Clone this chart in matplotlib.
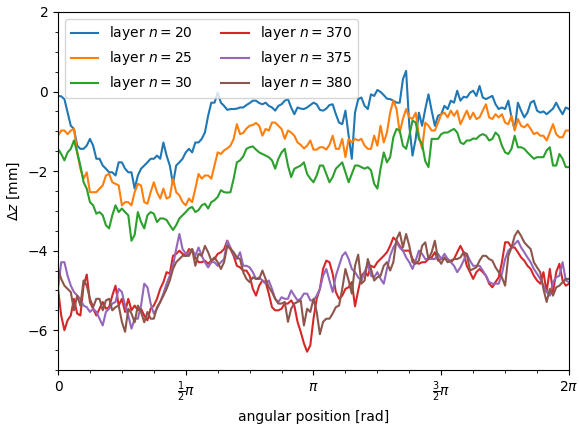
import numpy as np
import matplotlib
matplotlib.use('Agg')
import matplotlib.pyplot as plt
from matplotlib.ticker import MultipleLocator

# angular grid (rad)
n_points = 161
angle = np.linspace(0, 2 * np.pi, n_points)

layers = [20, 25, 30, 370, 375, 380]

dz_20 = [-0.11, -0.12, -0.19, -0.53, -0.86, -0.94, -1.36, -1.44, -1.44, -1.36,
         -1.19, -1.36, -1.69, -1.69, -1.86, -1.94, -2.03, -2.03, -2.11, -1.78,
         -1.78, -1.94, -2.03, -2.03, -2.44, -2.11, -1.94, -1.86, -1.78, -1.69,
         -1.69, -1.61, -1.69, -1.28, -1.61, -1.86, -2.32, -1.86, -1.78, -1.69,
         -1.53, -1.44, -1.53, -1.28, -1.28, -1.19, -1.03, -0.61, -0.28, -0.28,
         -0.03, -0.28, -0.36,
         -0.46, -0.44, -0.44, -0.43, -0.40, -0.40, -0.34, -0.29, -0.23, -0.23,
         -0.29, -0.32, -0.28, -0.36, -0.40, -0.48, -0.36, -0.32, -0.23, -0.19,
         -0.40, -0.57, -0.40, -0.43, -0.44, -0.40, -0.34, -0.28, -0.32, -0.46,
         -0.48, -0.43, -0.34, -0.32, -0.57, -0.78, -0.82, -0.48, -1.11, -1.69,
         -0.53, -0.19, -0.15, -0.36, -0.44, -0.07, -0.11, 0.04, -0.01, -0.09,
         -0.18, -0.19, -0.23,
         -0.28, -0.28, 0.31, 0.52, -0.86, -1.61, -1.19, -0.53, -0.86, -0.44,
         -0.07, -0.48, -0.86, -0.61, -0.57, -0.36, -0.44, -0.23, -0.28, 0.02,
         -0.23, -0.13, -0.15, -0.03, 0.02, -0.11, 0.14, -0.15, -0.19, -0.15,
         -0.11, -0.32, -0.44, -0.40, -0.44, -0.23, -0.65, -0.95, -0.28, -0.48,
         -0.65, -0.53, -0.28, -0.23, -0.48, -0.53, -0.50, -0.57, -0.50, -0.43,
         -0.28, -0.44, -0.57, -0.40, -0.44]

dz_25 = [-1.11, -0.98, -0.98, -1.07, -0.98, -0.94, -1.53, -1.94, -2.19, -2.03,
         -2.53, -2.53, -2.53, -2.44, -2.36, -2.11, -2.07, -2.28, -2.32, -2.36,
         -2.86, -2.78, -2.78, -2.86, -2.53, -2.32, -2.36, -2.78, -2.82, -2.53,
         -2.28, -2.53, -2.69, -2.44, -2.69, -2.65, -2.19, -2.53, -2.61, -2.78,
         -2.86, -2.69, -2.78, -2.44, -2.07, -2.19, -2.11, -2.11, -2.19, -1.86,
         -1.53, -1.57, -1.48,
         -1.43, -1.36, -1.19, -0.82, -1.07, -1.04, -0.93, -0.86, -0.84, -0.79,
         -0.86, -1.11, -0.94, -0.98, -0.78, -0.78, -0.86, -0.94, -1.19, -0.98,
         -1.03, -1.11, -1.28, -1.34, -1.43, -1.36, -1.23, -1.46, -1.46, -1.40,
         -1.40, -1.46, -1.34, -1.11, -1.44, -1.44, -1.19, -1.65, -1.19, -1.28,
         -1.19, -1.23, -1.19, -1.36, -1.44, -1.44, -1.11, -1.36, -0.86, -1.28,
         -1.03, -0.53, -0.23,
         -0.44, -1.03, -0.69, -0.44, -0.65, -0.69, -0.53, -1.11, -1.44, -0.78,
         -0.86, -0.98, -0.98, -0.78, -0.57, -0.53, -0.65, -0.48, -0.61, -0.48,
         -0.82, -0.65, -0.48, -0.69, -0.53, -0.69, -0.65, -0.48, -0.32, -0.65,
         -0.69, -0.57, -0.65, -0.57, -0.78, -0.82, -0.61, -0.98, -0.69, -0.86,
         -0.90, -0.82, -0.94, -1.07, -1.03, -1.11, -1.11, -1.23, -1.03, -0.82,
         -1.07, -1.15, -1.15, -0.98, -0.98]

dz_30 = [-1.44, -1.57, -1.73, -1.53, -1.44, -1.23, -1.53, -1.86, -2.28, -2.44,
         -2.78, -2.86, -3.07, -3.03, -3.11, -3.36, -3.44, -3.11, -2.86, -3.03,
         -2.94, -3.03, -3.11, -3.75, -3.60, -3.03, -3.28, -3.44, -3.11, -3.03,
         -3.07, -3.28, -3.19, -3.19, -3.23, -3.36, -3.48, -3.36, -3.19, -3.11,
         -3.03, -2.94, -2.90, -3.03, -2.98, -2.86, -2.82, -2.94, -2.78, -2.73,
         -2.65, -2.48, -2.53,
         -2.54, -2.53, -2.19, -1.78, -1.73, -1.63, -1.44, -1.40, -1.38, -1.46,
         -1.53, -1.57, -1.61, -1.65, -1.73, -1.94, -1.69, -1.53, -1.44, -1.86,
         -2.15, -1.94, -1.90, -1.86, -1.78, -2.07, -2.19, -2.28, -2.11, -1.86,
         -1.86, -2.07, -2.28, -2.15, -1.94, -1.86, -1.78, -2.03, -2.28, -2.07,
         -1.86, -1.86, -1.90, -1.94, -1.90, -1.98, -2.32, -2.44, -1.94, -1.53,
         -1.78, -1.65, -1.15,
         -0.94, -0.98, -1.36, -1.44, -1.11, -0.73, -0.78, -1.19, -1.32, -1.75,
         -1.90, -1.19, -1.19, -1.19, -1.07, -1.03, -1.03, -0.98, -0.94, -1.03,
         -1.28, -1.32, -1.23, -1.23, -1.18, -1.19, -1.11, -1.07, -1.11, -1.23,
         -1.19, -1.03, -1.11, -1.36, -1.53, -1.57, -1.44, -1.11, -1.40, -1.40,
         -1.44, -1.53, -1.61, -1.69, -1.65, -1.65, -1.65, -1.48, -1.40, -1.86,
         -1.86, -1.57, -1.69, -1.90, -1.90]

dz_370 = [-4.96, -5.63, -6.00, -5.75, -5.63, -5.21, -5.58, -5.63, -4.88, -4.60,
          -5.29, -5.46, -5.63, -5.46, -5.29, -5.46, -5.42, -5.13, -4.88, -5.38,
          -5.21, -5.54, -5.21, -5.50, -5.38, -5.50, -5.46, -5.63, -5.75, -5.46,
          -5.38, -5.21, -4.96, -4.79, -4.54, -4.58, -4.13, -4.08, -4.00, -4.08,
          -4.13, -3.96, -4.00, -4.17, -4.29, -4.29, -4.25, -4.33, -4.25, -4.21,
          -4.08, -4.04, -3.96,
          -3.75, -3.96, -4.13, -4.38, -4.42, -4.50, -4.50, -4.63, -4.96, -5.13,
          -4.88, -4.75, -4.79, -5.08, -5.42, -5.50, -5.50, -5.46, -5.33, -5.33,
          -5.25, -5.38, -5.79, -6.04, -6.33, -6.54, -6.38, -5.71, -5.21, -4.96,
          -4.46, -4.25, -4.29, -4.58, -5.04, -5.21, -5.13, -4.96, -4.92, -4.79,
          -5.40, -5.00, -4.63, -4.54, -4.63, -4.38, -4.42, -4.29, -4.21, -4.13,
          -4.04, -3.88, -3.67,
          -3.75, -3.88, -4.00, -4.00, -4.00, -4.21, -4.29, -4.33, -4.29, -4.29,
          -4.21, -4.17, -4.04, -4.25, -4.21, -4.21, -4.21, -4.29, -4.21, -4.04,
          -3.88, -4.04, -4.38, -4.54, -4.71, -4.54, -4.46, -4.54, -4.63, -4.83,
          -4.92, -4.79, -4.67, -4.29, -3.79, -3.79, -3.92, -3.92, -4.04, -4.17,
          -4.25, -4.38, -4.46, -4.63, -4.75, -4.83, -4.54, -5.04, -4.46, -5.04,
          -4.54, -4.33, -4.75, -4.88, -4.83]

dz_375 = [-4.96, -4.29, -4.29, -4.63, -4.88, -5.04, -5.13, -5.21, -5.38, -5.42,
          -5.54, -5.46, -5.54, -5.71, -5.88, -5.54, -5.46, -5.33, -5.29, -4.96,
          -5.04, -5.38, -5.63, -5.96, -5.71, -5.71, -5.38, -4.83, -4.92, -5.33,
          -5.58, -5.46, -5.29, -5.08, -4.83, -4.63, -4.38, -3.96, -3.58, -3.96,
          -4.08, -4.08, -3.96, -4.13, -3.92, -4.13, -4.29, -4.42, -4.29, -4.29,
          -4.38, -4.29, -4.21,
          -3.75, -3.92, -4.08, -4.21, -4.04, -4.38, -4.38, -4.42, -4.54, -4.71,
          -4.67, -4.75, -4.83, -4.75, -4.96, -5.21, -5.29, -5.17, -5.21, -5.21,
          -5.00, -5.13, -5.25, -5.21, -5.08, -5.08, -5.25, -5.25, -5.13, -4.96,
          -4.63, -4.46, -4.75, -5.04, -4.63, -4.38, -4.13, -4.04, -4.21, -4.46,
          -4.54, -4.67, -4.75, -4.54, -4.33, -4.63, -4.67, -4.54, -4.71, -4.83,
          -4.46, -4.13, -3.92,
          -3.79, -3.92, -4.00, -4.17, -4.29, -4.46, -4.25, -4.00, -4.08, -4.21,
          -4.21, -4.21, -4.21, -4.08, -4.21, -4.08, -4.21, -4.29, -4.38, -4.54,
          -4.42, -4.25, -4.08, -4.25, -4.38, -4.38, -4.38, -4.50, -4.63, -4.79,
          -4.83, -4.83, -4.83, -4.58, -4.21, -4.00, -3.92, -3.83, -3.75, -3.92,
          -4.04, -4.17, -4.29, -4.46, -4.58, -4.71, -4.88, -5.04, -5.13, -4.79,
          -4.67, -4.63, -4.29, -4.75, -4.79]

dz_380 = [-4.46, -4.71, -4.88, -4.96, -5.04, -5.50, -5.13, -5.38, -4.75, -4.88,
          -5.21, -5.42, -5.21, -5.21, -5.50, -5.25, -5.21, -5.50, -5.42, -5.38,
          -5.79, -6.04, -5.46, -5.58, -5.80, -5.38, -5.54, -5.80, -5.54, -5.71,
          -5.71, -5.42, -5.29, -5.13, -4.96, -4.75, -4.46, -4.29, -4.21, -4.13,
          -4.13, -4.13, -3.96, -4.38, -4.08, -4.13, -3.88, -4.04, -4.25, -4.17,
          -4.29, -4.46, -4.29,
          -3.88, -3.96, -4.04, -4.17, -4.21, -4.54, -4.71, -4.79, -4.67, -4.71,
          -4.71, -4.50, -4.71, -4.92, -5.04, -5.21, -5.33, -5.33, -5.29, -5.79,
          -5.46, -5.33, -5.29, -5.25, -5.88, -5.46, -5.54, -5.21, -5.54, -6.10,
          -5.79, -5.71, -5.71, -5.58, -5.42, -5.38, -4.96, -4.46, -4.75, -5.08,
          -4.38, -4.10, -4.83, -4.75, -4.21, -4.46, -4.75, -4.67, -4.63, -4.38,
          -4.29, -4.50, -4.29,
          -3.71, -3.54, -3.92, -3.58, -3.88, -4.29, -4.33, -4.25, -3.88, -3.79,
          -4.21, -4.04, -3.75, -4.21, -4.33, -4.17, -4.29, -4.25, -4.21, -4.21,
          -4.17, -4.04, -4.08, -4.50, -4.46, -4.42, -4.25, -4.13, -4.13, -4.21,
          -4.25, -4.42, -4.54, -4.67, -4.88, -4.13, -3.92, -3.63, -3.50, -3.63,
          -3.79, -3.88, -3.96, -4.29, -4.42, -4.54, -4.96, -5.29, -4.96, -5.13,
          -4.92, -4.88, -4.79, -4.71, -4.71]

series = [dz_20, dz_25, dz_30, dz_370, dz_375, dz_380]

xtick_labels = ['0', r'$\frac{1}{2}\pi$', r'$\pi$', r'$\frac{3}{2}\pi$', r'$2\pi$']
ytick_values = [-6, -4, -2, 0, 2]

fig = plt.figure(figsize=(5.79, 4.28), dpi=100)
ax = fig.add_axes([0.1002, 0.1355, 0.8825, 0.8365])

for n, ys in zip(layers, series):
    ax.plot(angle, ys, lw=1.5, label=r'layer $n = %d$' % n)

ax.set_xlim(0, 2 * np.pi)
ax.set_ylim(-7, 2)
ax.set_xticks(np.arange(5) * np.pi / 2)
ax.set_xticklabels(xtick_labels)
ax.xaxis.set_minor_locator(MultipleLocator(np.pi / 8))
ax.set_yticks(ytick_values)
ax.yaxis.set_minor_locator(MultipleLocator(0.5))
ax.set_xlabel('angular position [rad]')
ax.set_ylabel(r'$\Delta z$ [mm]')
ax.legend(loc='upper left', ncol=2)

fig.savefig('out.png', dpi=100)
